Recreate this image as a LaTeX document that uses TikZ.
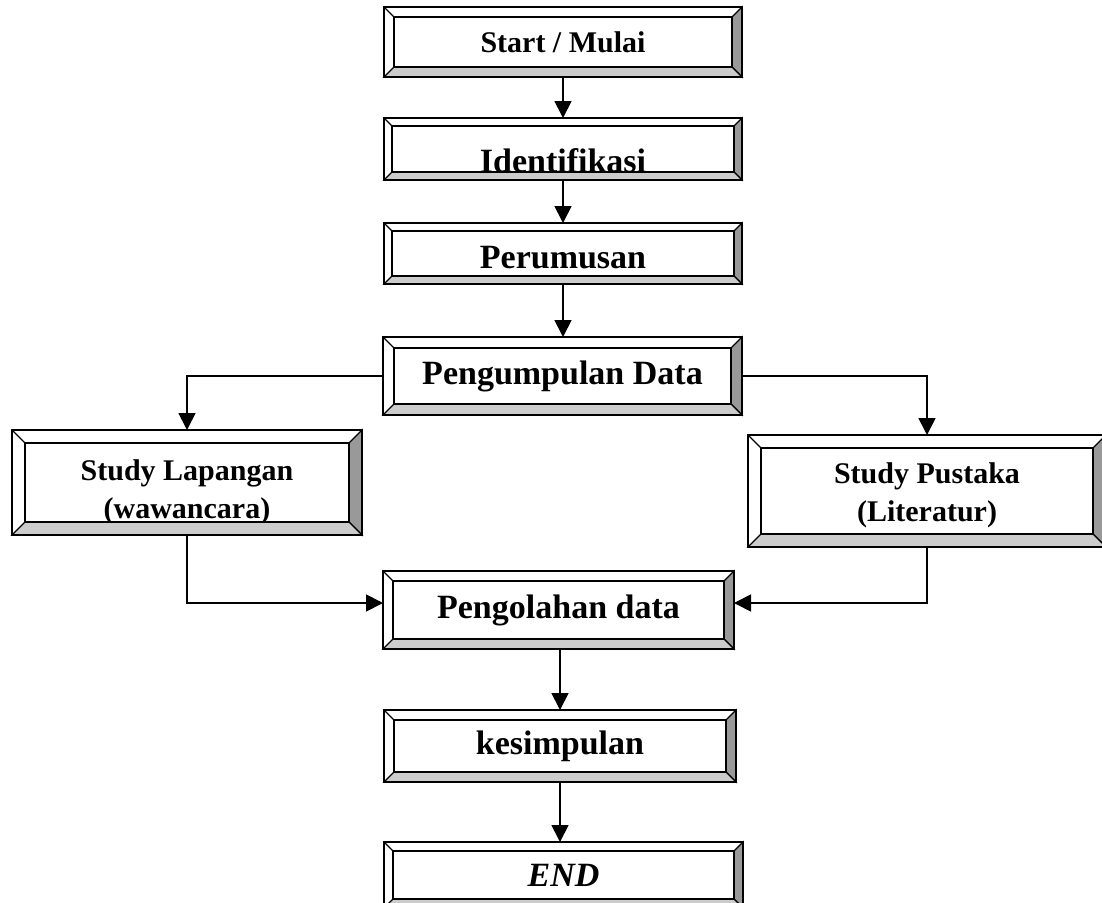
\documentclass[tikz,border=0pt]{standalone}
\usepackage{fontspec}
\setmainfont{Liberation Serif}
\usetikzlibrary{arrows.meta,calc}

\tikzset{
  box/.style={draw, line width=2pt, rectangle, inner sep=0pt, outer sep=0pt,
    align=center, font=\bfseries\fontsize{34}{38}\selectfont},
  small/.style={font=\bfseries\fontsize{30}{38}\selectfont},
  arr/.style={line width=1.8pt, -{Triangle[length=17pt,width=17pt]}},
}

\begin{document}
\begin{tikzpicture}[x=1pt,y=-1pt]
    \useasboundingbox (0,0) rectangle (1102,902);

    % kotak-kotak alur
    \node[box, small, minimum width=358pt, minimum height=70pt] (start) at (563,42) {Start / Mulai};
    \node[box, minimum width=358pt, minimum height=62pt, text height=46pt, text depth=0pt] (ident) at (563,149) {Identifikasi};
    \node[box, minimum width=358pt, minimum height=61pt, text height=30pt, text depth=0pt] (rumus) at (563,253.5) {Perumusan};
    \node[box, minimum width=359pt, minimum height=78pt] (kumpul) at (562.5,376) {Pengumpulan Data};
    \node[box, small, minimum width=350pt, minimum height=105pt, text height=71pt, text depth=0pt] (lapangan) at (187,482.5) {Study Lapangan\\(wawancara)};
    \node[box, small, minimum width=358pt, minimum height=112pt, text height=60pt, text depth=0pt] (pustaka) at (927,491) {Study Pustaka\\(Literatur)};
    \node[box, minimum width=351pt, minimum height=78pt] (olah) at (558.5,610) {Pengolahan data};
    \node[box, minimum width=352pt, minimum height=72pt] (simpul) at (560,746) {kesimpulan};
    \node[box, minimum width=359pt, minimum height=66pt] (end) at (563.5,875) {\itshape END};

    % efek bevel
    \foreach \n/\b in {start/10, ident/8, rumus/8, kumpul/11, lapangan/13, pustaka/13, olah/10, simpul/10, end/9} {
        \filldraw[fill=gray!80, line width=1.2pt] (\n.north east) -- (\n.south east)
            -- ([shift={(-\b,-\b)}]\n.south east) -- ([shift={(-\b,\b)}]\n.north east) -- cycle;
        \filldraw[fill=gray!40, line width=1.2pt] (\n.south west) -- (\n.south east)
            -- ([shift={(-\b,-\b)}]\n.south east) -- ([shift={(\b,-\b)}]\n.south west) -- cycle;
        \draw[line width=1.8pt] ([shift={(\b,\b)}]\n.north west) rectangle ([shift={(-\b,-\b)}]\n.south east);
        \draw[line width=1.2pt] (\n.north west) -- ([shift={(\b,\b)}]\n.north west);
        \draw[line width=2pt] (\n.north west) rectangle (\n.south east);
    }

    % panah
    \draw[arr] (start) -- (ident);
    \draw[arr] (ident) -- (rumus);
    \draw[arr] (rumus.south) -- (rumus.south |- kumpul.north);
    \draw[arr] (kumpul.west) -| (lapangan.north);
    \draw[arr] (kumpul.east) -| (pustaka.north);
    \draw[arr] (lapangan.south) |- ([yshift=7pt]olah.west);
    \draw[arr] (pustaka.south) |- ([yshift=7pt]olah.east);
    \draw[arr] (olah.south -| simpul.north) -- (simpul.north);
    \draw[arr] (simpul.south) -- (simpul.south |- end.north);

\end{tikzpicture}
\end{document}
